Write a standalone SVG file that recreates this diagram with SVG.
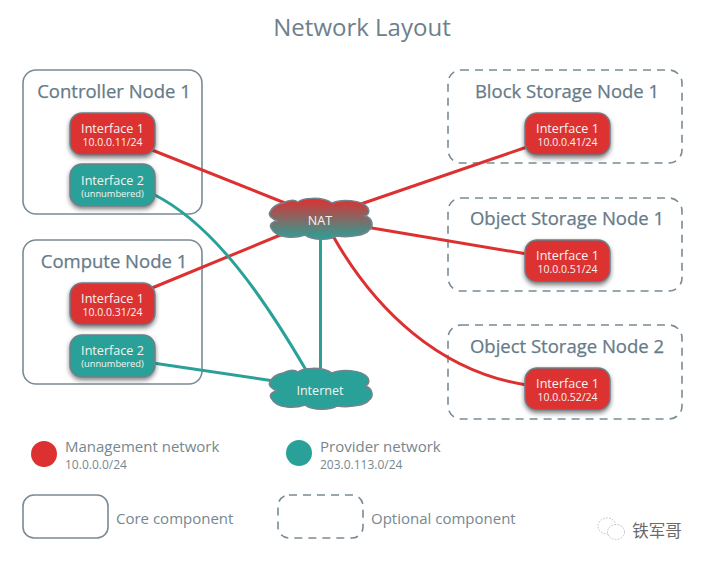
<svg xmlns="http://www.w3.org/2000/svg" width="704" height="561" viewBox="0 0 704 561">
<style>
text{font-family:"Open Sans","Noto Sans",sans-serif;text-anchor:middle}
.box{fill:#fff;stroke:#7a8b95;stroke-width:1.6}
.opt{fill:#fff;stroke:#7a8b95;stroke-width:1.6;stroke-dasharray:8 6}
.title{font-size:18.500px;fill:#667b88;stroke:#667b88;stroke-width:.25}
.if{stroke:#6e7f88;stroke-width:1.5;filter:url(#sh)}
.red{fill:#dd3030}.teal{fill:#2aa198}
.l1{font-size:12.600px;fill:#f4f4f0}
.l2{font-size:10.500px;fill:#f4f4f0}
.l3{font-size:9.300px;fill:#f4f4f0}
.conn{fill:none;stroke-width:3}
.r{stroke:#dd3030}.t{stroke:#2aa198}
.leg{font-size:15px;fill:#76878f;text-anchor:start}
.legs{font-size:12px;fill:#76878f;text-anchor:start}
.cloud{stroke:#74838c;stroke-width:1.500}
</style>
<defs>
<filter id="sh" x="-20%" y="-20%" width="140%" height="150%"><feDropShadow dx="0" dy="2.500" stdDeviation="2" flood-color="#222" flood-opacity=".55"/></filter>
<linearGradient id="g" x1="0" y1="0" x2="0" y2="1"><stop offset="0" stop-color="#dd3030"/><stop offset="1" stop-color="#2aa198"/></linearGradient>
<path id="cl" d="M283,203C289,200 295,200 298,202C302,198 322,196 332,203C340,199 362,199 368,208C370,212 368,215 365,216C373,218 374,227 369,230C366,235 350,238 337,236C332,240 312,241 305,235C297,238 277,240 271,228C269,224 273,221 278,221C271,219 268,215 270,212C272,207 277,204 283,203Z"/>
</defs>
<text id="title" x="362" y="36" style="font-size:24px;fill:#6d808c">Network Layout</text>

<g id="controller-box"><rect class="box" x="23" y="70" width="179" height="144" rx="13"/><text class="title" x="114" y="98">Controller Node 1</text></g>
<g id="compute-box"><rect class="box" x="23" y="240" width="179" height="144" rx="13"/><text class="title" x="114" y="268">Compute Node 1</text></g>
<g id="block-box"><rect class="opt" x="448" y="70" width="234" height="93" rx="13"/><text class="title" x="567" y="98">Block Storage Node 1</text></g>
<g id="object1-box"><rect class="opt" x="448" y="198" width="234" height="93" rx="13"/><text class="title" x="567" y="225">Object Storage Node 1</text></g>
<g id="object2-box"><rect class="opt" x="448" y="325" width="234" height="94" rx="13"/><text class="title" x="567" y="353">Object Storage Node 2</text></g>

<g id="connectors">
<path class="conn r" d="M152,150L290,205"/>
<path class="conn r" d="M152,288L290,231"/>
<path class="conn r" d="M358,205L527,147"/>
<path class="conn r" d="M360,226L527,254"/>
<path class="conn r" d="M333,236C375,310 440,372 527,385"/>
<path class="conn t" d="M153,194C215,225 265,300 306,370"/>
<path class="conn t" d="M320.500,236V370"/>
<path class="conn t" d="M153,363L274,381"/>
</g>

<g id="ctrl-if1"><rect class="if red" x="70" y="113" width="85" height="42" rx="12"/><text class="l1" x="112.500" y="133">Interface 1</text><text class="l2" x="112.500" y="146">10.0.0.11/24</text></g>
<g id="ctrl-if2"><rect class="if teal" x="70" y="164" width="85" height="42" rx="12"/><text class="l1" x="112.500" y="185">Interface 2</text><text class="l3" x="112.500" y="197">(unnumbered)</text></g>
<g id="comp-if1"><rect class="if red" x="70" y="283" width="85" height="42" rx="12"/><text class="l1" x="112.500" y="303">Interface 1</text><text class="l2" x="112.500" y="316">10.0.0.31/24</text></g>
<g id="comp-if2"><rect class="if teal" x="70" y="335" width="85" height="42" rx="12"/><text class="l1" x="112.500" y="355">Interface 2</text><text class="l3" x="112.500" y="367">(unnumbered)</text></g>
<g id="block-if1"><rect class="if red" x="525" y="113" width="85" height="42" rx="12"/><text class="l1" x="567.500" y="133">Interface 1</text><text class="l2" x="567.500" y="146">10.0.0.41/24</text></g>
<g id="obj1-if1"><rect class="if red" x="525" y="240" width="85" height="42" rx="12"/><text class="l1" x="567.500" y="260">Interface 1</text><text class="l2" x="567.500" y="273">10.0.0.51/24</text></g>
<g id="obj2-if1"><rect class="if red" x="525" y="368" width="85" height="42" rx="12"/><text class="l1" x="567.500" y="388">Interface 1</text><text class="l2" x="567.500" y="401">10.0.0.52/24</text></g>

<g id="nat"><use href="#cl" class="cloud" fill="url(#g)"/><text class="l1" x="320" y="225">NAT</text></g>
<g id="internet"><use href="#cl" class="cloud" fill="#2aa198" y="170"/><text class="l1" x="320" y="395">Internet</text></g>

<g id="legend-mgmt"><circle class="red" cx="44" cy="454" r="13"/><text class="leg" x="65" y="452">Management network</text><text class="legs" x="65" y="469">10.0.0.0/24</text></g>
<g id="legend-prov"><circle class="teal" cx="299" cy="453" r="13"/><text class="leg" x="320" y="452">Provider network</text><text class="legs" x="320" y="469">203.0.113.0/24</text></g>
<g id="legend-core"><rect class="box" x="23" y="495" width="85" height="43" rx="11"/><text class="leg" x="116" y="524">Core component</text></g>
<g id="legend-opt"><rect class="opt" x="278" y="495" width="85" height="43" rx="11"/><text class="leg" x="371" y="524">Optional component</text></g>

<g id="watermark" fill="none" stroke="#a8a8a8" stroke-width=".8" stroke-dasharray="1.500 1.500">
<ellipse cx="607" cy="526" rx="9" ry="8"/><ellipse cx="616" cy="532" rx="8.500" ry="7.500" fill="#fff"/>
<text x="657" y="537" stroke="none" fill="#6a6a6a" style="font-family:'Noto Sans CJK SC',sans-serif;font-size:16.500px">铁军哥</text>
</g>
</svg>
